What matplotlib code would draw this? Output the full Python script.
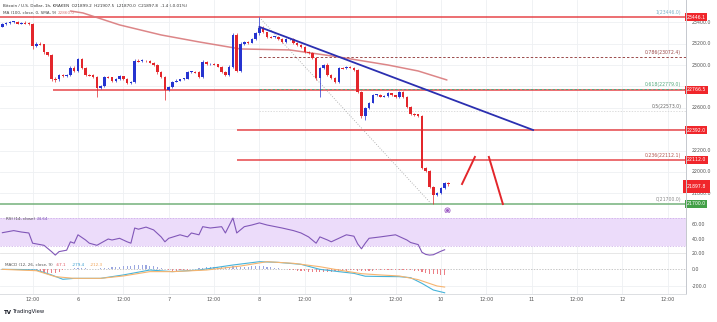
import matplotlib
matplotlib.use("Agg")
import matplotlib.pyplot as plt
from matplotlib.lines import Line2D
import numpy as np

# ---------------- data ----------------
# hourly BTC/USD candles, first candle at 20h before Feb 6 00:00
first_hour = -20
candle_open = [23360, 23385, 23395, 23398, 23402, 23388, 23396, 23392, 23380, 23178,
               23200, 23195, 23118, 23095, 22869, 22865, 22905, 22900, 22908, 22975,
               22945, 23055, 22975, 22910, 22905, 22888, 22785, 22800, 22888, 22885,
               22850, 22870, 22895, 22870, 22832, 22838, 23040, 23035, 23042, 23036,
               23022, 23000, 22930, 22885, 22766, 22790, 22845, 22855, 22865, 22872,
               22935, 22938, 22932, 22888, 23030, 23005, 23010, 23005, 22985, 22935,
               22905, 22985, 23280, 22940, 23200, 23215, 23210, 23245, 23295, 23350,
               23305, 23262, 23258, 23262, 23242, 23215, 23240, 23245, 23210, 23188,
               23170, 23125, 23110, 23066, 22880, 22972, 23000, 22905, 22880, 22842,
               22972, 22968, 22985, 22975, 22950, 22748, 22523, 22598, 22645, 22720,
               22722, 22705, 22712, 22735, 22715, 22698, 22745, 22700, 22610, 22542,
               22538, 22520, 22037, 22009, 21859, 21784, 21800, 21845, 21899.2]
candle_high = [23392, 23405, 23410, 23412, 23410, 23405, 23408, 23402, 23395, 23212,
               23215, 23200, 23125, 23100, 22885, 22915, 22915, 22918, 22990, 22995,
               23070, 23066, 22985, 22920, 22915, 22895, 22810, 22900, 22898, 22892,
               22880, 22905, 22900, 22880, 22848, 23060, 23052, 23055, 23050, 23045,
               23030, 23010, 22940, 22895, 22800, 22855, 22865, 22872, 22880, 22945,
               22948, 22945, 22940, 23045, 23040, 23020, 23018, 23012, 22992, 22945,
               23000, 23300, 23295, 23215, 23225, 23222, 23255, 23305, 23446, 23365,
               23312, 23270, 23272, 23268, 23250, 23248, 23252, 23250, 23215, 23195,
               23178, 23132, 23118, 23072, 22985, 23010, 23019, 22912, 22888, 22985,
               22982, 22995, 22992, 22982, 22958, 22760, 22610, 22655, 22730, 22732,
               22730, 22722, 22745, 22742, 22722, 22755, 22760, 22708, 22618, 22552,
               22545, 22528, 22045, 22018, 21868, 21812, 21855, 21905, 21907.5]
candle_low = [23352, 23378, 23385, 23390, 23380, 23382, 23385, 23372, 23150, 23165,
              23185, 23105, 23085, 22850, 22845, 22850, 22890, 22892, 22900, 22935,
              22935, 22965, 22900, 22895, 22880, 22700, 22775, 22795, 22875, 22840,
              22845, 22862, 22860, 22822, 22825, 22830, 23025, 23028, 23028, 23015,
              22992, 22920, 22875, 22673, 22755, 22785, 22840, 22850, 22860, 22865,
              22928, 22925, 22878, 22880, 22998, 23000, 22998, 22978, 22925, 22895,
              22898, 22975, 22930, 22930, 23188, 23200, 23205, 23238, 23285, 23298,
              23255, 23250, 23250, 23235, 23208, 23210, 23232, 23200, 23180, 23160,
              23115, 23100, 23055, 22860, 22701, 22965, 22895, 22870, 22832, 22835,
              22960, 22960, 22968, 22940, 22738, 22505, 22486, 22590, 22640, 22712,
              22698, 22700, 22705, 22708, 22690, 22692, 22692, 22600, 22532, 22525,
              22510, 22025, 21998, 21848, 21700, 21770, 21795, 21838, 21870.0]
candle_close = [23385, 23395, 23398, 23402, 23388, 23396, 23392, 23380, 23178, 23200,
                23195, 23118, 23095, 22869, 22865, 22905, 22900, 22908, 22975, 22945,
                23055, 22975, 22910, 22905, 22888, 22785, 22800, 22888, 22885, 22850,
                22870, 22895, 22870, 22832, 22838, 23040, 23035, 23042, 23036, 23022,
                23000, 22930, 22885, 22766, 22790, 22845, 22855, 22865, 22872, 22935,
                22938, 22932, 22888, 23030, 23005, 23010, 23005, 22985, 22935, 22905,
                22985, 23280, 22940, 23200, 23215, 23210, 23245, 23295, 23350, 23305,
                23262, 23258, 23262, 23242, 23215, 23240, 23245, 23210, 23188, 23170,
                23125, 23110, 23066, 22880, 22972, 23000, 22905, 22880, 22842, 22972,
                22968, 22985, 22975, 22950, 22748, 22523, 22598, 22645, 22720, 22722,
                22705, 22712, 22735, 22715, 22698, 22745, 22700, 22610, 22542, 22538,
                22520, 22037, 22009, 21859, 21784, 21800, 21845, 21899.2, 21897.8]

# 100 SMA
ma_hours = [-2, 1.3, 11, 22, 32, 43, 56, 69, 82, 90, 97.6]
ma_values = [23505, 23487, 23375, 23281, 23216, 23150, 23141, 23075, 23000, 22944, 22860]

# bearish trend line
trend_hours = [48, 120.4]
trend_prices = [23356, 22392]

# Fibonacci retracement (swing high -> swing low)
fib_high, fib_low = 23446.0, 21700.0
fib_start_hour, fib_end_hour = 48, 93.5
fib_ratios = [1, 0.786, 0.618, 0.5, 0.236, 0]

# horizontal levels
red_levels = [23446.1, 22766.5, 22392.0, 22112.0]
red_starts = [-21, -6.6, 42, 42]
support_level = 21700.0

# projected path sketch
path_up_h, path_up_p = [101.6, 105.0], [21887, 22140]
path_dn_h, path_dn_p = [108.7, 112.4], [22140, 21700]

# RSI(14)
rsi_hours = [-20, -17, -15, -13, -12, -9, -7, -6, -5, -3, -2, -1, 0, 2, 3, 5, 6, 8, 9, 11,
             13, 14, 15, 16, 18, 20, 22, 23, 24, 27, 29, 30, 32, 33, 35, 38, 39, 41, 42, 44,
             46, 48, 50, 54, 57, 59, 61, 63, 64, 66, 67, 69, 71, 73, 74, 75, 76, 77, 80, 84,
             87, 88, 90, 91, 92, 93, 94, 95, 96, 97]
rsi_values = [49, 52, 50, 48.6, 34, 31, 22, 17, 22, 24, 36, 34, 46, 38.6, 34, 31, 34, 40, 38.6, 41,
              36, 34, 55.7, 54, 57, 53, 43, 36, 41, 46, 43, 48.6, 46, 57.6, 55.7, 57.6, 48.6, 70, 48.6, 57.6,
              60, 63, 60, 55.7, 52, 48.6, 43, 34, 43, 38.6, 36, 41, 46, 44, 33, 26, 34, 41, 43, 46,
              38.6, 35, 32, 21, 18, 17, 17.5, 20, 22.5, 24.64]

# MACD(12, 26, 9)
macd_hours = [-20, -15, -11, -7, -4, -1, 6, 12, 19, 25, 32, 41, 48, 53, 59, 64, 69, 73, 76, 80,
              85, 88, 91, 94, 97]
macd_values = [-4, -6, -12, -70, -121, -110, -110, -70, -12, -31, -12, 47, 86, 78, 55, -4, -31, -51,
               -85, -88, -90, -102, -169, -247, -279.4]
signal_hours = [-20, -11, -6, -1, 6, 12, 19, 25, 34, 43, 50, 57, 64, 69, 75, 80, 85, 90, 95, 97]
signal_values = [-4, -20, -90, -110, -110, -82, -31, -31, -12, 35, 86, 67, 27, -12, -55, -70, -82,
                 -125, -200, -212.3]
hist_values = [2, 3, 1, -2, -3, 2, -4,
               -8, -20, -28, -35, -42, -48, -50, -45, -35,
               -15, -5, 3, 8, 10, 12, 8, 5, 3, 4,
               6, 10, 14, 18, 22, 26, 30, 34, 38, 45, 50, 48, 42, 36, 30,
               20, 10, -5, -15, -20, -18, -14, -10, -8, -4,
               2, 6, 12, 18, 22, 25, 26, 24, 20, 18, 30, 20, 24, 26, 28, 30, 32, 33, 30, 26,
               20, 14, 8, 2, -4, -10, -14, -18, -22, -26, -30, -34, -40, -36, -34, -32, -30, -28, -25, -22,
               -18, -15, -14, -20, -28, -26, -24, -20, -16, -14, -12, -10, -10, -9, -8, -8, -10, -14, -20, -28,
               -40, -48, -55, -60, -64, -66, -67.1]

x_tick_hours = list(range(-12, 157, 12))

# ---------------- figure ----------------
W, H = 717, 322
fig = plt.figure(figsize=(W / 100, H / 100), dpi=100)
fig.patch.set_facecolor("white")


def box(x0, y0, x1, y1):
    return [x0 / W, 1 - y1 / H, (x1 - x0) / W, (y1 - y0) / H]


AX_R = 686
XLIM = (-20.63, 160.85)
ax = fig.add_axes(box(0, 0, AX_R, 212))
ax_rsi = fig.add_axes(box(0, 212, AX_R, 258))
ax_macd = fig.add_axes(box(0, 258, AX_R, 294))

GRID = "#eef0f3"
RED = "#e3262b"
BLUE = "#2634d0"
LBL = 3.0
for a in (ax, ax_rsi, ax_macd):
    a.set_xlim(*XLIM)
    a.set_facecolor("none")
    for s in a.spines.values():
        s.set_visible(False)
    a.tick_params(left=False, right=False, labelleft=False, bottom=False, labelbottom=False)
    for h in x_tick_hours:
        a.axvline(h, color=GRID, lw=0.6, zorder=0)

# ---- main price panel ----
ax.set_ylim(21625, 23608)
ytr = ax.get_yaxis_transform()
tagged = red_levels + [support_level, candle_close[-1] - 35]
for p in range(21800, 23401, 200):
    ax.axhline(p, color=GRID, lw=0.6, zorder=0)
    if min(abs(p - v) for v in tagged) < 45:
        continue
    ax.text(1.008, p, f"{p:.1f}", transform=ytr, fontsize=3.4, color="#555",
            va="center", ha="left", clip_on=False)

# horizontal levels
for lvl, st in zip(red_levels, red_starts):
    ax.hlines(lvl, st, XLIM[1], color=RED, lw=1.1, alpha=0.85, zorder=1)
    ax.text(1.001, lvl, f"{lvl:.1f}", transform=ytr, fontsize=3.3, color="white",
            va="center", ha="left", clip_on=False, zorder=10,
            bbox=dict(boxstyle="square,pad=0.35", fc="#f0262b", ec="none"))
ax.axhline(support_level, color="#74b27a", lw=1.1, zorder=1)
ax.text(1.001, support_level, f"{support_level:.1f}", transform=ytr, fontsize=3.3, color="white",
        va="center", ha="left", clip_on=False, zorder=10,
        bbox=dict(boxstyle="square,pad=0.35", fc="#43a047", ec="none"))

# Fibonacci levels and labels
fib_colors = {1: "#7fb2c8", 0.786: "#9b4a4a", 0.618: "#54a97d", 0.5: "#666666",
              0.236: "#b3554e", 0: "#888888"}
for r in fib_ratios:
    v = fib_low + r * (fib_high - fib_low)
    if r in (0.786, 0.618):
        ax.hlines(v, fib_start_hour, XLIM[1], color=fib_colors[r], lw=0.7,
                  linestyles=(0, (2.5, 2)), zorder=1)
    elif r == 0.5:
        ax.hlines(v, fib_start_hour, XLIM[1], color="#cfcfcf", lw=0.5,
                  linestyles=(0, (2, 2)), zorder=1)
    ax.text(159.6, v + 18, f"{r}({v:.1f})", fontsize=3.3, color=fib_colors[r],
            ha="right", va="bottom", zorder=6)
ax.plot([fib_start_hour, fib_end_hour], [fib_high, fib_low], color="#9e9e9e",
        lw=0.6, ls=(0, (1, 2)), zorder=1)

# moving average
ax.plot(ma_hours, ma_values, color="#d9797b", lw=1.1, alpha=0.9, zorder=2,
        solid_capstyle="round")

# candles
t = np.arange(first_hour, first_hour + len(candle_close))
o = np.array(candle_open, float)
c = np.array(candle_close, float)
hi = np.array(candle_high, float)
lo = np.array(candle_low, float)
col = np.where(c >= o, BLUE, RED)
ax.vlines(t, lo, hi, colors=col, lw=0.5, zorder=3)
body = np.where(np.abs(c - o) < 9, 9 * np.sign(c - o + 1e-9), c - o)
ax.bar(t, body, bottom=o, width=0.66, color=col, linewidth=0, zorder=3)

# trend line
ax.plot(trend_hours, trend_prices, color="#2b2fb0", lw=1.3, zorder=4)

# projected path
ax.plot(path_up_h, path_up_p, color=RED, lw=1.4, zorder=4)
ax.plot(path_dn_h, path_dn_p, color=RED, lw=1.4, zorder=4)

# marker under the last candles
ax.scatter([97.6], [21644], s=14, facecolor="white", edgecolor="#9c5bc4", lw=0.6, zorder=5)
ax.scatter([97.6], [21644], s=1.5, color="#9c5bc4", zorder=6)

# current price tag
ax.text(1.001, candle_close[-1] - 35, f"{candle_close[-1]:.1f}", transform=ytr, fontsize=3.3,
        color="white", va="center", ha="left", clip_on=False, zorder=11,
        bbox=dict(boxstyle="square,pad=0.9", fc="#f0262b", ec="none"))

# header
fig.text(3 / W, 1 - 6 / H,
         "Bitcoin / U.S. Dollar, 1h, KRAKEN  O21899.2  H21907.5  L21870.0  C21897.8  -1.4 (-0.01%)",
         fontsize=LBL, color="#333", va="center")
fig.text(3 / W, 1 - 13 / H, "MA (100, close, 0, SMA, 9)", fontsize=LBL, color="#444", va="center")
fig.text(58 / W, 1 - 13 / H, f"{ma_values[-1]:.1f}", fontsize=LBL, color="#d9797b", va="center")

# ---- RSI panel ----
ax_rsi.set_ylim(12.86, 78.57)
ax_rsi.axhspan(30, 70, color="#ecdcfa", lw=0, zorder=0)
for lv in (70, 30):
    ax_rsi.axhline(lv, color="#c9a7e6", lw=0.5, ls=(0, (2, 2)), zorder=1)
ax_rsi.axhline(20, color="#e3e3e3", lw=0.6, zorder=1)
ax_rsi.plot(rsi_hours, rsi_values, color="#8157b8", lw=0.8, zorder=3)
rtr = ax_rsi.get_yaxis_transform()
for lv in (60, 40, 20):
    ax_rsi.text(1.008, lv, f"{lv:.2f}", transform=rtr, fontsize=3.4, color="#555",
                va="center", ha="left", clip_on=False)
ax_rsi.text(6 / AX_R, 0.85, "RSI (14, close)", transform=ax_rsi.transAxes, fontsize=LBL,
            color="#555", va="center")
ax_rsi.text(37 / AX_R, 0.85, f"{rsi_values[-1]:.2f}", transform=ax_rsi.transAxes, fontsize=LBL,
            color="#8157b8", va="center")

# ---- MACD panel ----
ax_macd.set_ylim(-294, 129.4)
ax_macd.axhline(0, color="#b0b0b0", lw=0.5, ls=(0, (2, 2)), zorder=1)
ax_macd.axhline(-200, color=GRID, lw=0.6, zorder=0)
ht = np.arange(first_hour, first_hour + len(hist_values))
hv = np.array(hist_values, float)
ax_macd.bar(ht, hv, width=0.3, color=np.where(hv >= 0, "#9aa6e0", "#ec7f86"), lw=0, zorder=2)
ax_macd.plot(macd_hours, macd_values, color="#46b3d9", lw=0.8, zorder=3)
ax_macd.plot(signal_hours, signal_values, color="#f6b46f", lw=0.8, zorder=3)
mtr = ax_macd.get_yaxis_transform()
for lv in (0, -200):
    ax_macd.text(1.008, lv, f"{lv:.1f}", transform=mtr, fontsize=3.4, color="#555",
                 va="center", ha="left", clip_on=False)
ax_macd.text(5 / AX_R, 0.8, "MACD (12, 26, close, 9)", transform=ax_macd.transAxes,
             fontsize=LBL, color="#555", va="center")
ax_macd.text(56 / AX_R, 0.8, f"{hist_values[-1]:.1f}", transform=ax_macd.transAxes,
             fontsize=LBL, color="#e05560", va="center")
ax_macd.text(72 / AX_R, 0.8, f"{macd_values[-1]:.1f}", transform=ax_macd.transAxes,
             fontsize=LBL, color="#3a9fd0", va="center")
ax_macd.text(90 / AX_R, 0.8, f"{signal_values[-1]:.1f}", transform=ax_macd.transAxes,
             fontsize=LBL, color="#f0a050", va="center")

# time axis labels
ax_macd.set_xticks(x_tick_hours)
ax_macd.set_xticklabels(["12:00" if h % 24 == 12 else str(6 + h // 24) for h in x_tick_hours])
ax_macd.tick_params(labelbottom=True, labelsize=3.6, labelcolor="#555", length=0, pad=2.2)

# frame lines of the price scale and time scale
fig.add_artist(Line2D([AX_R / W, AX_R / W], [1 - 294 / H, 1], color="#c5c8ce", lw=0.7))
fig.add_artist(Line2D([0, AX_R / W], [1 - 294 / H, 1 - 294 / H], color="#dcdee2", lw=0.7))

# brand
fig.text(4 / W, 1 - 312 / H, "TV", fontsize=4.0, color="#131722", weight="bold", va="center")
fig.text(13 / W, 1 - 312 / H, "TradingView", fontsize=3.8, color="#131722", va="center")

fig.savefig("out.png", dpi=100, facecolor="white")
